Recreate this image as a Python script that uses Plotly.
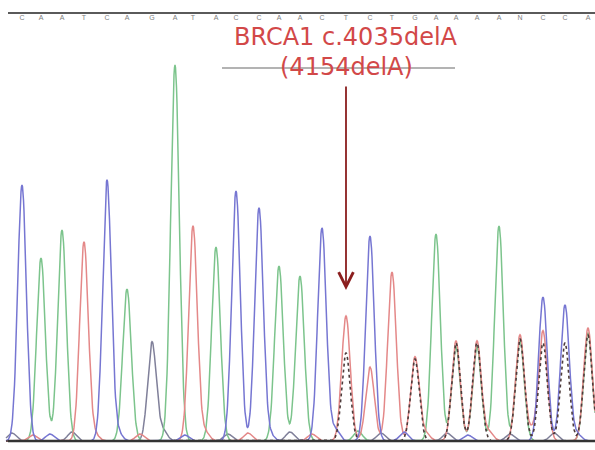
import numpy as np
import plotly.graph_objects as go

# Called peaks: scan position, channel, signal height
peak_pos = [22, 41, 62, 84, 107, 127, 152, 175, 193, 216, 236, 259, 279, 300,
            322, 346, 370, 392, 415, 436, 456, 477, 499, 520, 543, 565, 588]
peak_base = ["C", "A", "A", "T", "C", "A", "G", "A", "T", "A", "C", "C", "A", "A",
             "C", "T", "C", "T", "G", "A", "A", "A", "A", "N", "C", "C", "A"]
peak_height = [256, 183, 211, 199, 261, 152, 99, 376, 215, 194, 250, 233, 175, 165,
               213, 125, 205, 169, 84, 207, 100, 100, 215, 106, 144, 136, 113]
peak_channel = ["C", "A", "A", "T", "C", "A", "G", "A", "T", "A", "C", "C", "A", "A",
                "C", "T", "C", "T", "T", "A", "T", "T", "A", "T", "C", "C", "T"]

# Overlapping secondary peaks past the frameshift: position, channel, height
sec_pos = [346, 370, 415, 456, 456, 477, 477, 520, 520, 543, 543, 565, 588, 588]
sec_channel = ["G", "T", "G", "G", "A", "G", "A", "G", "A", "G", "T", "G", "G", "A"]
sec_height = [88, 74, 82, 98, 94, 98, 94, 102, 100, 98, 110, 98, 106, 108]

# Low-level baseline noise bumps: position, channel, height
noise_pos = [12, 33, 50, 72, 95, 118, 140, 163, 185, 205, 228, 248, 270, 290,
             312, 335, 358, 381, 404, 426, 447, 468, 489, 510, 532, 554, 577]
noise_channel = ["G", "T", "C", "G", "T", "C", "T", "G", "C", "T", "G", "T", "C", "G",
                 "T", "C", "A", "G", "C", "T", "G", "C", "T", "G", "T", "G", "C"]
noise_height = [8, 6, 7, 9, 6, 8, 7, 10, 6, 9, 7, 8, 6, 9,
                7, 12, 10, 8, 9, 7, 8, 6, 9, 7, 10, 8, 7]

channel_color = {"A": "#7cc48c", "C": "#7676d2", "G": "#80809a", "T": "#e48888"}
overlap_color = "#4d3b3b"
sigma = 4.3

x = np.arange(6.0, 595.5, 0.5)


def gauss_sum(positions, channels, heights, ch):
    y = np.zeros_like(x)
    for pos, c, h in zip(positions, channels, heights):
        if c == ch:
            y += h * np.exp(-0.5 * ((x - pos) / sigma) ** 2)
    return y


fig = go.Figure()
for ch in ["G", "A", "T", "C"]:
    y = gauss_sum(peak_pos + noise_pos, peak_channel + noise_channel,
                  peak_height + noise_height, ch)
    if ch != "G":
        y = y + gauss_sum(sec_pos, sec_channel, sec_height, ch)
    fig.add_trace(go.Scatter(
        x=x, y=y, mode="lines",
        line=dict(color=channel_color[ch], width=1.5),
        hoverinfo="skip", showlegend=False))

# Secondary G signal from the shifted allele, dotted
fig.add_trace(go.Scatter(
    x=x, y=gauss_sum(sec_pos, sec_channel, sec_height, "G"), mode="lines",
    line=dict(color=overlap_color, width=1.6, dash="dot"),
    hoverinfo="skip", showlegend=False))

# Base calls along the top strip
fig.add_trace(go.Scatter(
    x=peak_pos, y=[423] * len(peak_pos), mode="text", text=peak_base,
    textfont=dict(family="Liberation Sans", size=7, color="#808080"),
    hoverinfo="skip", showlegend=False))

shapes = [
    dict(type="line", xref="x", yref="y", x0=8, x1=595, y0=428, y1=428,
         line=dict(color="#5a5a5a", width=2)),
    dict(type="line", xref="x", yref="y", x0=8, x1=595, y0=0, y1=0,
         line=dict(color="#333333", width=2.5)),
    dict(type="line", xref="x", yref="y", x0=222, x1=455, y0=373, y1=373,
         line=dict(color="#9a9a9a", width=1.5)),
]

mut_x = peak_pos[15]
label_font = dict(family="DejaVu Sans", size=24, color="#d24848")
annotations = [
    dict(x=mut_x, y=404, xref="x", yref="y", text="BRCA1 c.4035delA",
         showarrow=False, font=label_font),
    dict(x=mut_x, y=374, xref="x", yref="y", text="(4154delA)",
         showarrow=False, font=label_font),
    dict(x=mut_x, y=151, xref="x", yref="y", ax=mut_x, ay=356, axref="x", ayref="y",
         text="", showarrow=True, arrowhead=5, arrowsize=1.6, arrowwidth=1.8,
         arrowcolor="#8b1e1e"),
]

fig.update_layout(
    width=595, height=450,
    margin=dict(l=0, r=0, t=0, b=0),
    paper_bgcolor="white", plot_bgcolor="white",
    xaxis=dict(range=[0, 595], visible=False, fixedrange=True),
    yaxis=dict(range=[-9, 441], visible=False, fixedrange=True),
    shapes=shapes, annotations=annotations,
)

fig.write_html("out.html")
